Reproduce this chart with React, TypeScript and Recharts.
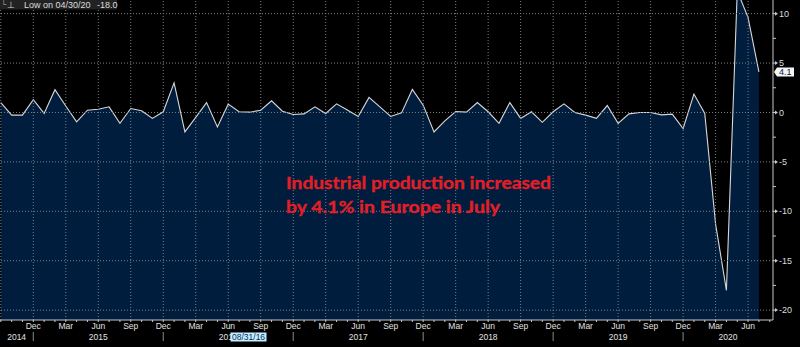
import React from 'react';
import { AreaChart, Area, XAxis, YAxis, ReferenceLine } from 'recharts';

// ---- data ----
const startYear = 2014;
const startMonthIndex = 8; // September
const monthNames = ['Jan', 'Feb', 'Mar', 'Apr', 'May', 'Jun', 'Jul', 'Aug', 'Sep', 'Oct', 'Nov', 'Dec'];
const quarterLabels = ['Dec', 'Mar', 'Jun', 'Sep'];

// Euro area industrial production, % MoM (Sep 2014 .. Jul 2020)
const values = [
  1.0, -0.27, -0.27, 1.3, -0.1, 2.3, 0.65, -0.95, 0.23, 0.33, 0.57, -1.1,
  0.4, 0.17, -0.6, 0.07, 3.0, -1.97, -0.5, 1.0, -1.46, 0.84, 0.07, 0.03,
  0.23, 1.18, 0.13, -0.2, -0.14, 0.57, -0.1, 0.87, 0.25, -0.4, 1.52, 0.57,
  -0.4, -0.04, 2.33, 0.74, -1.97, -0.85, 0.1, 0.03, 1.0, 0.07, -1.1, 1.0,
  -0.6, 0.07, -1.0, 0.07, 0.87, 0.0, -0.27, -0.6, 0.7, -1.1, -0.14, 0.0,
  0.0, -0.24, -0.17, -1.62, 1.86, -0.1, -11.3, -18.0, 12.3, 9.6, 4.1,
];

const yMajorTicks = [10, 5, 0, -5, -10, -15, -20];
const yMinorTicks = [7.5, 2.5, -2.5, -7.5, -12.5, -17.5];
const yDomain = [-21, 11.38];
const xDomain = [-0.074, 71.3];

const lowLabel = 'Low on 04/30/20';
const lowValue = '-18.0';
const cursorDate = '08/31/16';
const annotationLines = ['Industrial production increased', 'by 4.1% in Europe in July'];

// ---- derived table ----
const data = values.map((v, i) => {
  const m = startMonthIndex + i;
  return { i, value: v, month: monthNames[m % 12], year: startYear + Math.floor(m / 12) };
});
const lastValue = values[values.length - 1];

const monthTickIdx: number[] = [];
for (let i = 0; i <= Math.floor(xDomain[1]); i++) monthTickIdx.push(i);
const monthOf = (i: number) => monthNames[(startMonthIndex + i) % 12];
const quarterIdx = monthTickIdx.filter((i) => quarterLabels.includes(monthOf(i)));
const separatorIdx = monthTickIdx.filter((i) => monthOf(i) === 'Dec');
const bounds = [xDomain[0], ...separatorIdx, xDomain[1]];
const yearCenters = bounds.slice(0, -1).map((lo, k) => ({
  pos: (lo + bounds[k + 1]) / 2,
  year: startYear + k,
}));
const xTicks = Array.from(new Set([...monthTickIdx, ...yearCenters.map((y) => y.pos)])).sort((a, b) => a - b);

const AXIS = '#c8c8c8';
const GRID = '#7a7f88';
const FONT = '"Liberation Sans", Arial, sans-serif';

const XTick = (props: any) => {
  const { x, y, payload } = props;
  const v = payload.value as number;
  const isInt = Number.isInteger(v);
  const yc = yearCenters.find((c) => Math.abs(c.pos - v) < 1e-6);
  const m = isInt ? monthOf(v) : '';
  const showMonth = isInt && quarterLabels.includes(m) && x > 8;
  return (
    <g>
      {isInt && <line x1={x} x2={x} y1={y} y2={y + 2} stroke={AXIS} strokeWidth={1} />}
      {showMonth && (
        <text x={x} y={y + 9} textAnchor="middle" fontSize={8.5} fontFamily={FONT} fill="#e2e2e2">
          {m}
        </text>
      )}
      {isInt && m === 'Dec' && <line x1={x} x2={x} y1={y + 12} y2={y + 21} stroke="#8a8a8a" strokeWidth={1} />}
      {yc && (
        <text x={x} y={y + 19.5} textAnchor="middle" fontSize={8.5} fontFamily={FONT} fill="#e2e2e2">
          {yc.year}
        </text>
      )}
    </g>
  );
};

const YTick = (props: any) => {
  const { x, y, payload } = props;
  const v = payload.value as number;
  if (v === lastValue) {
    return (
      <g>
        <polygon
          points={`${x + 1},${y} ${x + 4},${y - 4.5} ${x + 21},${y - 4.5} ${x + 21},${y + 4.5} ${x + 4},${y + 4.5}`}
          fill="#f4f4f4"
        />
        <text x={x + 6} y={y + 3.2} fontSize={9} fontFamily={FONT} fill="#0a1a3a">
          {v.toFixed(1)}
        </text>
      </g>
    );
  }
  if (yMinorTicks.includes(v)) {
    return <line x1={x} x2={x + 3} y1={y} y2={y} stroke={AXIS} strokeWidth={1} />;
  }
  return (
    <g>
      <line x1={x} x2={x + 3} y1={y} y2={y} stroke={AXIS} strokeWidth={1} />
      <polygon points={`${x + 2},${y - 2} ${x + 5},${y} ${x + 2},${y + 2}`} fill={AXIS} />
      <text x={x + 6} y={y + 3.2} fontSize={9} fontFamily={FONT} fill="#dcdcdc">
        {v < 0 ? `-${Math.abs(v)}` : v}
      </text>
    </g>
  );
};

export default function App() {
  return (
    <div style={{ position: 'absolute', left: 0, top: 0, width: 800, height: 347, background: '#000', overflow: 'hidden' }}>
      <AreaChart width={800} height={347} data={data} margin={{ top: 0, right: 0, bottom: 0, left: 0 }}>
        <XAxis
          dataKey="i"
          type="number"
          domain={xDomain}
          ticks={xTicks}
          interval={0}
          allowDataOverflow
          tickLine={false}
          tickSize={0}
          tickMargin={0}
          axisLine={{ stroke: AXIS }}
          tick={<XTick />}
          height={27}
        />
        <YAxis
          orientation="right"
          type="number"
          domain={yDomain}
          allowDataOverflow
          ticks={[...yMajorTicks, ...yMinorTicks, lastValue].sort((a, b) => b - a)}
          interval={0}
          tickLine={false}
          tickSize={0}
          tickMargin={0}
          axisLine={{ stroke: AXIS }}
          tick={<YTick />}
          width={27}
        />
        <Area
          type="linear"
          dataKey="value"
          stroke="#d8d8d8"
          strokeWidth={1.1}
          fill="#011d3d"
          fillOpacity={1}
          baseValue="dataMin"
          isAnimationActive={false}
          dot={false}
          activeDot={false}
        />
        {yMajorTicks.map((t) => (
          <ReferenceLine key={`h${t}`} y={t} stroke={GRID} strokeDasharray="1 2" strokeWidth={1} />
        ))}
        {quarterIdx.map((q) => (
          <ReferenceLine key={`v${q}`} x={q} stroke={GRID} strokeDasharray="1 2" strokeWidth={1} />
        ))}
      </AreaChart>
      <svg width={800} height={347} style={{ position: 'absolute', left: 0, top: 0, pointerEvents: 'none' }}>
        <rect x={0} y={0} width={117} height={9.5} fill="#222" />
        <text x={1} y={7.5} fontSize={9} fontFamily='"DejaVu Sans", sans-serif' fill="#8a8a8a">└</text>
        <text x={7} y={7.5} fontSize={9} fontFamily='"DejaVu Sans", sans-serif' fill="#d0d0d0">⊥</text>
        <text x={24} y={7.5} fontSize={9} fontFamily={FONT} fill="#dcdcdc">
          {lowLabel}
        </text>
        <text x={97} y={7.5} fontSize={9} fontFamily={FONT} fill="#dcdcdc">
          {lowValue}
        </text>
        <rect x={230.5} y={332.5} width={36} height={9} fill="#c4efff" />
        <text x={232} y={340} fontSize={8.5} fontFamily={FONT} fill="#0a2a5a">
          {cursorDate}
        </text>
        <text x={286} y={188.5} fontSize={17} fontWeight={700} fontFamily="Lato, sans-serif" fill="#e41e26" stroke="#e41e26" strokeWidth={0.3} textLength={265} lengthAdjust="spacingAndGlyphs">
          {annotationLines[0]}
        </text>
        <text x={286} y={213} fontSize={17} fontWeight={700} fontFamily="Lato, sans-serif" fill="#e41e26" stroke="#e41e26" strokeWidth={0.3} textLength={214} lengthAdjust="spacingAndGlyphs">
          {annotationLines[1]}
        </text>
      </svg>
    </div>
  );
}
